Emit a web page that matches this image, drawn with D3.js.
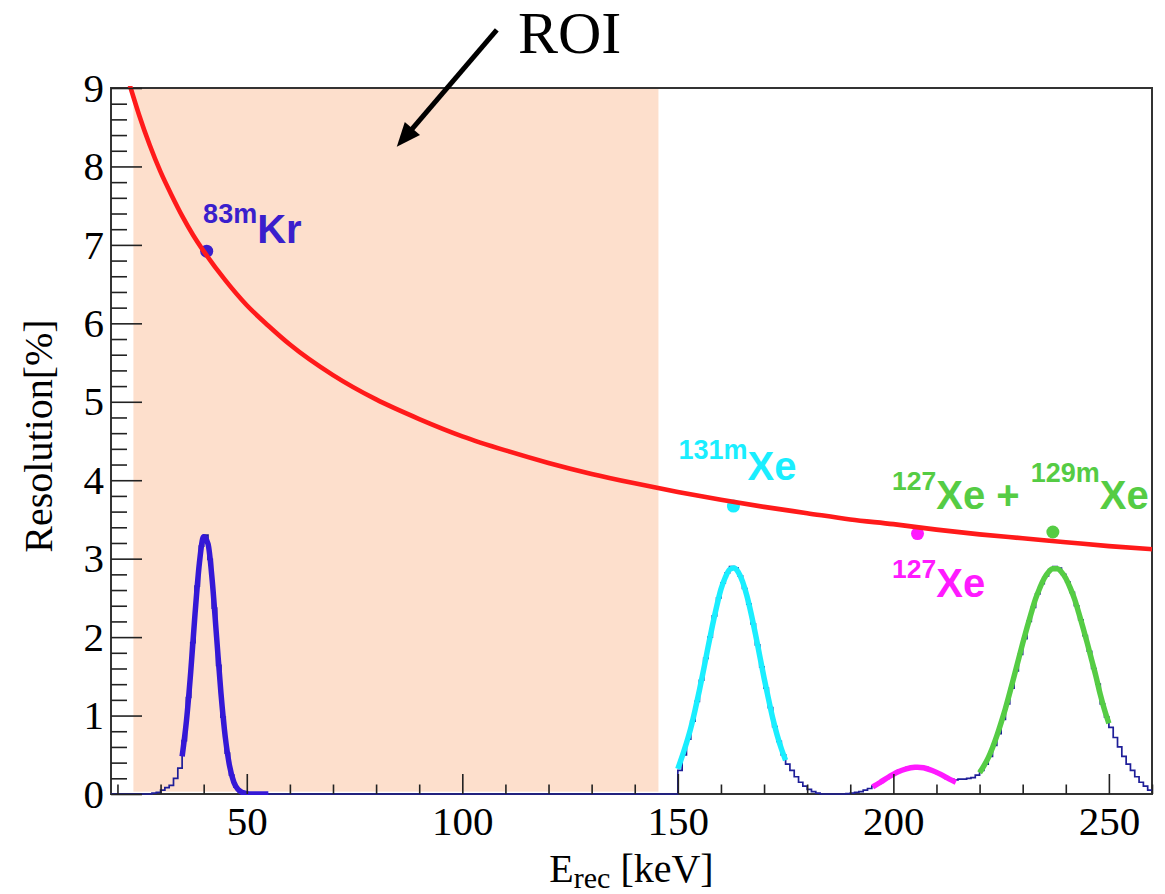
<!DOCTYPE html>
<html><head><meta charset="utf-8">
<script src="https://cdn.jsdelivr.net/npm/d3@7"></script>
<style>body{margin:0;background:#fff} text{white-space:pre}</style></head>
<body><svg id="c" width="1165" height="894"></svg>
<script>
// ---------------- data ----------------
const xDomain = [18.5, 260];
const yDomain = [0, 9];
const xMajorTicks = [50, 100, 150, 200, 250];
const xMinorTicks = [20, 30, 40, 60, 70, 80, 90, 110, 120, 130, 140, 160, 170, 180, 190, 210, 220, 230, 240, 260];
const yMajorTicks = [0, 1, 2, 3, 4, 5, 6, 7, 8, 9];
const yMinorTicks = d3.range(0, 9.01, 0.2).filter(v => Math.abs(v - Math.round(v)) > 0.01);
const roiE = [23.7, 145.5];
const roiR = [0.03, 9];

// resolution fit curve (E [keV], resolution [%])
const resE = [22.9, 25, 27.5, 30, 32.5, 35, 37.5, 40, 45, 50, 55, 60, 70, 80, 90, 100, 110, 120, 130, 140, 150, 160, 170, 180, 190, 200, 210, 220, 230, 240, 250, 260];
const resV = [9.03, 8.66, 8.27, 7.93, 7.64, 7.37, 7.13, 6.92, 6.55, 6.23, 5.97, 5.73, 5.34, 5.03, 4.78, 4.56, 4.38, 4.22, 4.08, 3.96, 3.85, 3.75, 3.66, 3.58, 3.50, 3.44, 3.37, 3.31, 3.26, 3.21, 3.16, 3.12];

// measured resolution points
const peakNames = ["83mKr", "131mXe", "127Xe", "127Xe+129mXe"];
const peakE = [40.7, 162.9, 205.6, 237.0];
const peakR = [6.92, 3.67, 3.32, 3.34];
const peakColors = ["#3a1fcc", "#1aeeff", "#ff1aff", "#55cc44"];

// spectrum histogram, 1 keV bins (arbitrary units)
const histStart = 18, histEnd = 260;
const histKrStart = 28;
const histKr = [0.01, 0.02, 0.05, 0.08, 0.11, 0.2, 0.33, 0.68, 1.23, 1.93, 2.65, 3.16, 3.3, 2.99, 2.37, 1.64, 0.98, 0.52, 0.24, 0.09, 0.03, 0.01];
const histXeStart = 150;
const histXe = [
  0.3, 0.5, 0.7, 0.93, 1.18, 1.45, 1.73, 2.0, 2.27, 2.5,          // 150-159
  2.69, 2.82, 2.9, 2.88, 2.78, 2.62, 2.42, 2.17, 1.9, 1.62,       // 160-169
  1.35, 1.1, 0.86, 0.67, 0.5, 0.38, 0.3, 0.22, 0.15, 0.1,         // 170-179
  0.06, 0.03, 0.01, 0, 0, 0, 0, 0, 0, 0.005,                      // 180-189
  0.01, 0.02, 0.03, 0.05, 0.07, 0.1, 0.13, 0.17, 0.2, 0.24,       // 190-199
  0.27, 0.3, 0.32, 0.34, 0.35, 0.35, 0.35, 0.34, 0.32, 0.29,      // 200-209
  0.26, 0.23, 0.2, 0.19, 0.18, 0.19, 0.19, 0.2, 0.21, 0.24,       // 210-219
  0.3, 0.38, 0.48, 0.62, 0.77, 0.95, 1.15, 1.35, 1.57, 1.78,      // 220-229
  1.98, 2.2, 2.38, 2.55, 2.68, 2.78, 2.86, 2.9, 2.88, 2.8,        // 230-239
  2.7, 2.57, 2.4, 2.22, 2.02, 1.82, 1.6, 1.4, 1.15, 0.98,         // 240-249
  0.85, 0.72, 0.6, 0.48, 0.38, 0.3, 0.22, 0.15, 0.1, 0.05         // 250-259
];

// peak fits
const fitKrE = d3.range(35, 56);
const fitKrV = [0.48, 0.93, 1.56, 2.30, 2.94, 3.28, 3.19, 2.71, 2.00, 1.29, 0.73, 0.36, 0.15, 0.056, 0.018, 0.005, 0, 0, 0, 0, 0];
const fitCyE = d3.range(150, 176);
const fitCyV = [0.32, 0.48, 0.65, 0.84, 1.07, 1.32, 1.59, 1.87, 2.14, 2.39, 2.61, 2.76, 2.86, 2.88, 2.83, 2.71, 2.53, 2.30, 2.04, 1.76, 1.48, 1.22, 0.97, 0.76, 0.58, 0.43];
const fitMgE = [195.2, 197, 199, 201, 203, 205, 205.6, 207, 209, 211, 213, 214.5];
const fitMgV = [0.09, 0.15, 0.22, 0.28, 0.32, 0.34, 0.342, 0.335, 0.3, 0.25, 0.19, 0.15];
const fitGrE = d3.range(220, 251);
const fitGrV = [0.27, 0.36, 0.46, 0.59, 0.74, 0.91, 1.09, 1.29, 1.5, 1.71, 1.92, 2.12, 2.31, 2.49, 2.63, 2.75, 2.83, 2.87, 2.87, 2.83, 2.75, 2.63, 2.49, 2.31, 2.12, 1.92, 1.71, 1.5, 1.27, 1.07, 0.9];

// annotations (data coordinates)
const roiText = "ROI";
const roiTextAt = [112.9, 9.44];
const arrowFrom = [108.0, 9.74];
const arrowTo = [84.8, 8.25];
const xTitleMain = "E", xTitleSub = "rec", xTitleUnit = " [keV]";
const yTitle = "Resolution[%]";

// ---------------- drawing ----------------
const W = 1165, H = 894;
const M = {left: 111, right: 1152, top: 88, bottom: 794};
const x = d3.scaleLinear().domain(xDomain).range([M.left, M.right]);
const y = d3.scaleLinear().domain(yDomain).range([M.bottom, M.top]);
const svg = d3.select("#c");
svg.append("rect").attr("width", W).attr("height", H).attr("fill", "#fff");
svg.append("clipPath").attr("id", "clip").append("rect")
  .attr("x", M.left).attr("y", M.top - 2).attr("width", M.right - M.left + 1).attr("height", M.bottom - M.top + 3);

// ROI shading
svg.append("rect")
  .attr("x", x(roiE[0])).attr("width", x(roiE[1]) - x(roiE[0]))
  .attr("y", y(roiR[1])).attr("height", y(roiR[0]) - y(roiR[1]))
  .attr("fill", "#fddfcc");

// frame
svg.append("rect").attr("x", M.left).attr("y", M.top)
  .attr("width", M.right - M.left).attr("height", M.bottom - M.top)
  .attr("fill", "none").attr("stroke", "#333").attr("stroke-width", 2);

const plot = svg.append("g").attr("clip-path", "url(#clip)");

// histogram
const histBins = [];
for (let e = histStart; e < histEnd; e++) {
  let v = 0;
  if (e >= histKrStart && e < histKrStart + histKr.length) v = histKr[e - histKrStart];
  if (e >= histXeStart && e < histXeStart + histXe.length) v = histXe[e - histXeStart];
  histBins.push([e, v]);
}
histBins.push([histEnd, histBins[histBins.length - 1][1]]);
plot.append("path")
  .attr("d", d3.line().x(d => x(d[0])).y(d => y(d[1])).curve(d3.curveStepAfter)(histBins))
  .attr("fill", "none").attr("stroke", "#1e1e98").attr("stroke-width", 1.7);

// fits
const fitLine = d3.line().x(d => x(d[0])).y(d => y(d[1])).curve(d3.curveMonotoneX);
const fits = [
  [fitKrE, fitKrV, "#3418d6"],
  [fitCyE, fitCyV, "#1aeeff"],
  [fitMgE, fitMgV, "#ff1aff"],
  [fitGrE, fitGrV, "#55cc44"]
];
fits.forEach(([es, vs, c]) => {
  plot.append("path").attr("d", fitLine(es.map((e, i) => [e, vs[i]])))
    .attr("fill", "none").attr("stroke", c).attr("stroke-width", 5.5);
});

// measured points
plot.selectAll("circle.pk").data(peakE).enter().append("circle")
  .attr("cx", d => x(d)).attr("cy", (d, i) => y(peakR[i])).attr("r", 6.5)
  .attr("fill", (d, i) => peakColors[i]);

// resolution curve
plot.append("path").attr("d", fitLine(resE.map((e, i) => [e, resV[i]])))
  .attr("fill", "none").attr("stroke", "#ff1a1a").attr("stroke-width", 4.6);

// axes
function styleAxis(g) {
  g.select(".domain").remove();
  g.selectAll(".tick line").attr("stroke", "#222").attr("stroke-width", 1.6);
  g.selectAll("text").attr("font-family", "Liberation Serif, Times New Roman, serif")
    .attr("font-size", 41).attr("fill", "#000");
}
svg.append("g").attr("transform", `translate(0,${M.bottom})`)
  .call(d3.axisBottom(x).tickValues(xMinorTicks).tickSizeInner(-9.5).tickSizeOuter(0).tickFormat(""))
  .call(styleAxis);
svg.append("g").attr("transform", `translate(0,${M.bottom})`)
  .call(d3.axisBottom(x).tickValues(xMajorTicks).tickSizeInner(-20).tickSizeOuter(0).tickPadding(12))
  .call(styleAxis);
svg.append("g").attr("transform", `translate(${M.left},0)`)
  .call(d3.axisLeft(y).tickValues(yMinorTicks).tickSizeInner(-16).tickSizeOuter(0).tickFormat(""))
  .call(styleAxis);
svg.append("g").attr("transform", `translate(${M.left},0)`)
  .call(d3.axisLeft(y).tickValues(yMajorTicks).tickSizeInner(-31).tickSizeOuter(0).tickPadding(7))
  .call(styleAxis);

// axis titles
const serif = "Liberation Serif, Times New Roman, serif";
const xt = svg.append("text").attr("x", (M.left + M.right) / 2).attr("y", M.bottom + 88)
  .attr("text-anchor", "middle").attr("font-family", serif).attr("font-size", 40).attr("fill", "#000");
xt.append("tspan").text(xTitleMain);
xt.append("tspan").attr("font-size", 30).attr("dy", 6).text(xTitleSub);
xt.append("tspan").attr("dy", -6).text(xTitleUnit);
svg.append("text").attr("transform", `translate(${M.left - 59},${(M.top + M.bottom) / 2 - 5}) rotate(-90)`)
  .attr("text-anchor", "middle").attr("font-family", serif).attr("font-size", 40).attr("fill", "#000")
  .text(yTitle);

// isotope labels
const sans = "Liberation Sans, Arial, sans-serif";
const labels = [
  {at: [39.87, 7.28], color: peakColors[0], parts: [["83m", 27, 0], ["Kr", 40, 20]]},
  {at: [150.14, 4.27], color: peakColors[1], parts: [["131m", 27, 0], ["Xe", 40, 21]]},
  {at: [199.7, 3.87], color: peakColors[3], parts: [["127", 26.5, 0], ["Xe + ", 40, 19], ["129m", 27, -27], ["Xe", 40, 27]]},
  {at: [199.7, 2.75], color: peakColors[2], parts: [["127", 26.5, 0], ["Xe", 40, 19]]}
];
labels.forEach(l => {
  const t = svg.append("text").attr("x", x(l.at[0])).attr("y", y(l.at[1]))
    .attr("font-family", sans).attr("font-weight", "bold").attr("fill", l.color);
  l.parts.forEach(p => t.append("tspan").attr("font-size", p[1]).attr("dy", p[2]).text(p[0]));
});

// ROI annotation
svg.append("text").attr("x", x(roiTextAt[0])).attr("y", y(roiTextAt[1]))
  .attr("font-family", serif).attr("font-size", 60).attr("fill", "#000").text(roiText);
{
  const x0 = x(arrowFrom[0]), y0 = y(arrowFrom[1]), x1 = x(arrowTo[0]), y1 = y(arrowTo[1]);
  const ang = Math.atan2(y1 - y0, x1 - x0);
  const hl = 24, hw = 10;
  const bx = x1 - hl * Math.cos(ang), by = y1 - hl * Math.sin(ang);
  svg.append("line").attr("x1", x0).attr("y1", y0).attr("x2", bx + 2 * Math.cos(ang)).attr("y2", by + 2 * Math.sin(ang))
    .attr("stroke", "#000").attr("stroke-width", 5);
  const px = -Math.sin(ang), py = Math.cos(ang);
  svg.append("polygon")
    .attr("points", [[x1, y1], [bx + hw * px, by + hw * py], [bx - hw * px, by - hw * py]].map(p => p.join(",")).join(" "))
    .attr("fill", "#000");
}
</script>
</body></html>
